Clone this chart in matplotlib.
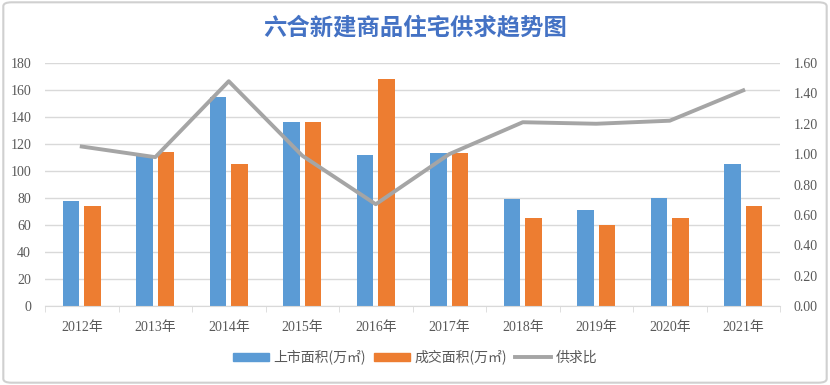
import matplotlib
matplotlib.use("Agg")
import matplotlib.pyplot as plt
import numpy as np
from matplotlib.patches import Rectangle, FancyBboxPatch
from matplotlib.lines import Line2D

plt.rcParams['font.family'] = ['Liberation Serif', 'Noto Sans CJK SC', 'DejaVu Sans']

years = ['2012年', '2013年', '2014年', '2015年', '2016年', '2017年', '2018年', '2019年', '2020年', '2021年']
supply = [78, 112, 155, 136, 112, 113.5, 79.5, 71, 80, 105.5]
sold = [74, 114, 105.5, 136, 168.5, 113, 65, 60, 65, 74]
ratio = [1.05, 0.98, 1.48, 0.99, 0.67, 1.00, 1.21, 1.20, 1.22, 1.42]

title = '六合新建商品住宅供求趋势图'
labels = ['上市面积(万㎡)', '成交面积(万㎡)', '供求比']

blue = '#5B9BD5'
orange = '#ED7D31'
gray = '#A5A5A5'
tick_color = '#595959'
grid_color = '#D9D9D9'

fig = plt.figure(figsize=(8.3, 3.85), dpi=100)
fig.patches.append(FancyBboxPatch((0.004, 0.006), 0.992, 0.988, boxstyle='round,pad=0,rounding_size=0.01',
                                  transform=fig.transFigure, fill=False, edgecolor='#D0D0D0', linewidth=1.5))

ax = fig.add_axes([45/830, 1-306/385, 735/830, 243/385])
x = np.arange(len(years))
w = 0.225
off = 0.146
ax.bar(x - off, supply, w, color=blue, zorder=2)
ax.bar(x + off, sold, w, color=orange, zorder=2)
ax.set_xlim(-0.5, len(years) - 0.5)
ax.set_ylim(0, 180)
ax.set_yticks(np.arange(0, 181, 20))
ax.yaxis.grid(True, color=grid_color, linewidth=1)
ax.set_axisbelow(True)
for s in ['top', 'right', 'left']:
    ax.spines[s].set_visible(False)
ax.spines['bottom'].set_color(grid_color)
ax.set_xticks(x)
ax.set_xticklabels(years)
ax.set_xticks(np.arange(-0.5, len(years), 1), minor=True)
ax.tick_params(axis='x', which='major', length=0, pad=11, labelsize=10, labelcolor=tick_color)
ax.tick_params(axis='x', which='minor', length=4, color=grid_color)
ax.tick_params(axis='y', length=0, pad=10, labelsize=10, labelcolor=tick_color)

ax2 = ax.twinx()
ax2.plot(x, ratio, color=gray, linewidth=2.8, zorder=3)
ax2.set_ylim(0, 1.6)
ax2.set_yticks(np.arange(0, 1.61, 0.2))
ax2.set_yticklabels([f'{v:.2f}' for v in np.arange(0, 1.61, 0.2)])
ax2.tick_params(axis='y', length=0, pad=10, labelsize=10, labelcolor=tick_color)
for s in ax2.spines.values():
    s.set_visible(False)

fig.text(0.5, 1-27/385, title, ha='center', va='center', fontsize=16.8, fontweight='bold',
         color='#4472C4', family=['Noto Sans CJK SC'])

handles = [Rectangle((0, 0), 1, 1, color=blue), Rectangle((0, 0), 1, 1, color=orange),
           Line2D([0], [0], color=gray, linewidth=2.8)]
fig.legend(handles, labels, loc='center', bbox_to_anchor=(0.5, 1-357/385), ncol=3, frameon=False,
           handlelength=2.6, handleheight=0.5, columnspacing=0.6, handletextpad=0.3,
           labelcolor=tick_color, prop={'family': ['Noto Sans CJK SC'], 'size': 10, 'weight': 'light'})

fig.savefig('out.png', dpi=100)
